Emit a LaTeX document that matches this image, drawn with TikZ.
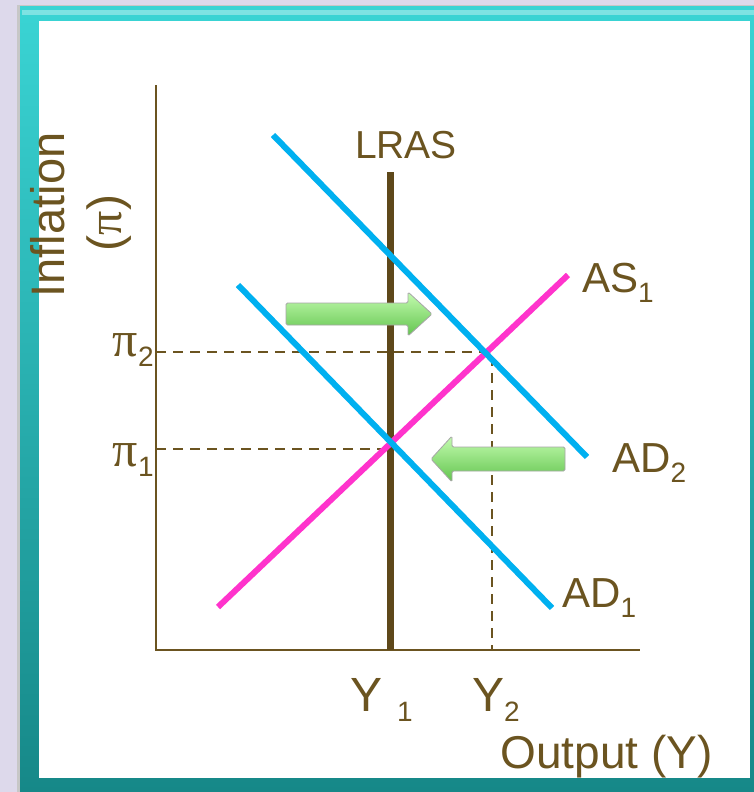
\documentclass[tikz,border=0pt]{standalone}
\usepackage{fontspec}
\setmainfont{Liberation Sans}
\newfontfamily\grkfont{Liberation Serif}
\usetikzlibrary{positioning,calc}
\definecolor{ecbrown}{RGB}{107,84,32}
\definecolor{eclras}{RGB}{94,72,26}
\definecolor{ecblue}{RGB}{0,176,240}
\definecolor{ecpink}{RGB}{255,51,204}
\definecolor{ecbg}{RGB}{221,217,235}
\definecolor{ectealtop}{RGB}{58,212,212}
\definecolor{ectealbot}{RGB}{22,136,136}
\definecolor{ecgreenhi}{RGB}{196,252,176}
\definecolor{ecgreenlo}{RGB}{98,196,78}
\newcommand{\lowsub}[1]{\raisebox{-10pt}{\fontsize{28pt}{28pt}\selectfont #1}}
\tikzset{
  lbl/.style={font=\fontsize{42pt}{42pt}\selectfont, text=ecbrown, inner sep=0pt},
  curveline/.style={line width=6pt},
  axisline/.style={draw=ecbrown, line width=2pt},
  guide/.style={draw=ecbrown, line width=2pt, dash pattern=on 10pt off 7pt},
  shiftarrow/.style={draw=black!35, line width=0.8pt, top color=ecgreenhi,
    bottom color=ecgreenlo, rounded corners=1.5pt},
}
\begin{document}
\begin{tikzpicture}[x=1pt,y=-1pt]
  \useasboundingbox (0,0) rectangle (754,792);
  % frame
  \fill[ecbg] (0,0) rectangle (754,792);
  \fill[black!22] (17,5) rectangle (754,792);
  \shade[top color=ectealtop, bottom color=ectealbot] (20,7) rectangle (754,792);
  \fill[white, opacity=0.35] (22,10) rectangle (754,15);
  \fill[white] (39,21) rectangle (750,778);

  % axes
  \coordinate (O) at (156,650);
  \coordinate (ytop) at (156,85);
  \coordinate (xend) at (640,650);
  \draw[axisline] (ytop) -- (O) -- (xend);

  % equilibrium points
  \coordinate (e1) at (390,449);
  \coordinate (e2) at (492,352);
  \draw[guide] (O |- e2) -- (e2) -- (e2 |- O);
  \draw[guide] (O |- e1) -- (e1);

  % curves
  \coordinate (lrastop) at (390,172);
  \draw[draw=eclras, line width=7pt] (lrastop) -- (lrastop |- O);
  \coordinate (as1a) at (218,607);
  \coordinate (as1b) at (568,275);
  \draw[curveline, ecpink] (as1a) -- (as1b);
  \coordinate (ad1a) at (238,285);
  \coordinate (ad1b) at (552,608);
  \draw[curveline, ecblue] (ad1a) -- (ad1b);
  \coordinate (ad2a) at (273,135);
  \coordinate (ad2b) at (587,457);
  \draw[curveline, ecblue] (ad2a) -- (ad2b);

  % shift arrows
  \draw[shiftarrow] (286,303) -- (408,303) -- (408,292) -- (432,314)
    -- (408,336) -- (408,325) -- (286,325) -- cycle;
  \draw[shiftarrow] (565,447) -- (452,447) -- (452,436) -- (431,459)
    -- (452,482) -- (452,471) -- (565,471) -- cycle;

  % labels
  \node[lbl, font=\fontsize{39pt}{39pt}\selectfont, anchor=base] (lras) at (406,158) {LRAS};
  \node[lbl, anchor=base west] (as1) at (582,292) {AS\lowsub{1}};
  \node[lbl, anchor=base west] (ad2) at (612,472) {AD\lowsub{2}};
  \node[lbl, anchor=base west] (ad1) at (562,607) {AD\lowsub{1}};
  \node[lbl, anchor=base east] (pi2) at (154,356)
    {{\grkfont\fontsize{50pt}{50pt}\selectfont π}\lowsub{2}};
  \node[lbl, anchor=base east] (pi1) at (154,466)
    {{\grkfont\fontsize{50pt}{50pt}\selectfont π}\lowsub{1}};
  \node[lbl, font=\fontsize{48pt}{48pt}\selectfont, anchor=base west] (y1) at (350,711)
    {Y\hspace{15pt}\lowsub{1}};
  \node[lbl, font=\fontsize{48pt}{48pt}\selectfont, anchor=base west] (y2) at (472,711)
    {Y\lowsub{2}};
  \node[lbl, font=\fontsize{46pt}{46pt}\selectfont, anchor=base east] (outp) at (713,768)
    {Output (Y)};
  \node[lbl, font=\fontsize{47pt}{47pt}\selectfont, rotate=90, anchor=base] (infl) at (64,215)
    {Inflation};
  \node[lbl, font=\fontsize{48pt}{48pt}\selectfont, rotate=90, anchor=base] (inflsym) at (121,223)
    {({\grkfont π})};
\end{tikzpicture}
\end{document}
